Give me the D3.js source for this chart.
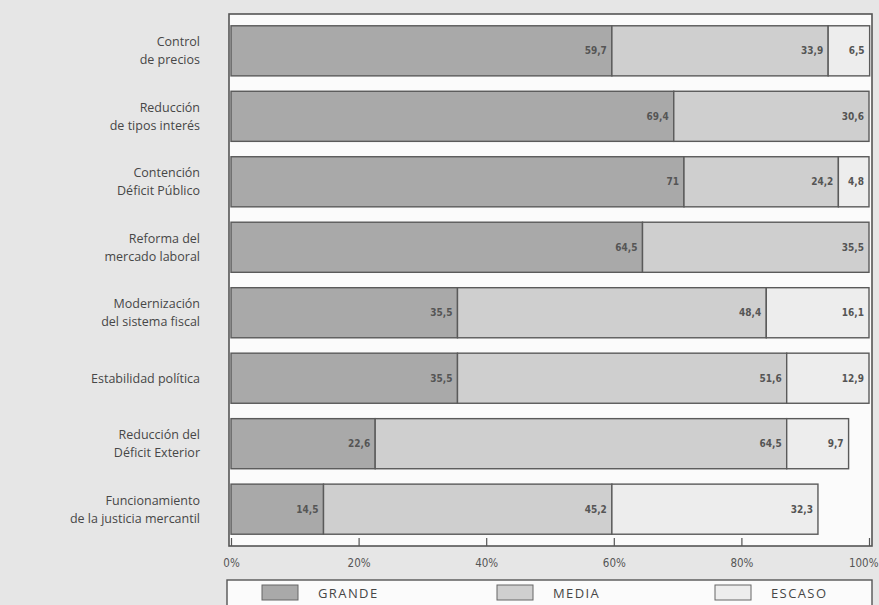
<!DOCTYPE html>
<html>
<head>
<meta charset="utf-8">
<script src="https://cdn.jsdelivr.net/npm/d3@7"></script>
<style>
  html, body { margin: 0; padding: 0; background: #e6e6e6; }
  svg { display: block; }
</style>
</head>
<body>
<svg id="chart" width="879" height="605"></svg>
<script>
// Factores y grado de importancia (porcentaje de respuestas)
const categories = [
  "Control\nde precios",
  "Reducción\nde tipos interés",
  "Contención\nDéficit Público",
  "Reforma del\nmercado laboral",
  "Modernización\ndel sistema fiscal",
  "Estabilidad política",
  "Reducción del\nDéficit Exterior",
  "Funcionamiento\nde la justicia mercantil"
];
const grande = [59.7, 69.4, 71, 64.5, 35.5, 35.5, 22.6, 14.5];
const media  = [33.9, 30.6, 24.2, 35.5, 48.4, 51.6, 64.5, 45.2];
const escaso = [6.5, 0, 4.8, 0, 16.1, 12.9, 9.7, 32.3];
const seriesNames = ["GRANDE", "MEDIA", "ESCASO"];
const tickValues = [0, 20, 40, 60, 80, 100];

const colors = { GRANDE: "#a9a9a9", MEDIA: "#cfcfcf", ESCASO: "#ededed" };
const ink = "#474747";

const svg = d3.select("#chart");

const frame = { left: 229, right: 872, top: 14, bottom: 546 };

const x = d3.scaleLinear().domain([0, 100]).range([231, 869]);
const y = d3.scaleBand()
  .domain(categories)
  .range([frame.top, frame.bottom])
  .paddingInner(0.235)
  .paddingOuter(0.18);

const rows = categories.map((c, i) => ({
  cat: c, GRANDE: grande[i], MEDIA: media[i], ESCASO: escaso[i]
}));
const stacked = d3.stack().keys(seriesNames)(rows);

// plot frame with white interior
svg.append("rect")
  .attr("x", frame.left).attr("y", frame.top)
  .attr("width", frame.right - frame.left)
  .attr("height", frame.bottom - frame.top)
  .attr("fill", "#fbfbfb")
  .attr("stroke", "#555").attr("stroke-width", 1.6);

// stacked segments
const layer = svg.append("g").selectAll("g")
  .data(stacked).join("g")
  .attr("fill", d => colors[d.key]);

layer.selectAll("rect")
  .data(d => d.filter(s => s[1] - s[0] > 0))
  .join("rect")
  .attr("x", s => x(s[0]))
  .attr("y", s => y(s.data.cat))
  .attr("width", s => x(s[1]) - x(s[0]))
  .attr("height", y.bandwidth())
  .attr("stroke", "#5a5a5a")
  .attr("stroke-width", 1.4);

// value labels at the right end of each segment
const fmt = v => String(v).replace(".", ",");
layer.selectAll("text")
  .data(d => d.filter(s => s[1] - s[0] > 0).map(s => ({ s, key: d.key })))
  .join("text")
  .attr("x", d => x(d.s[1]) - 5)
  .attr("y", d => y(d.s.data.cat) + y.bandwidth() / 2)
  .attr("dy", "0.35em")
  .attr("text-anchor", "end")
  .attr("font-family", "'Liberation Sans Narrow', 'DejaVu Sans Condensed', sans-serif")
  .attr("font-size", 10)
  .attr("font-weight", "bold")
  .attr("fill", "#555")
  .text(d => fmt(d.s.data[d.key]));

// category labels
const catG = svg.append("g")
  .attr("font-family", "'Open Sans', 'Noto Sans', sans-serif")
  .attr("font-size", 12.5)
  .attr("fill", ink)
  .attr("text-anchor", "end");

categories.forEach(c => {
  const lines = c.split("\n");
  const cy = y(c) + y.bandwidth() / 2;
  const lh = 18;
  const t = catG.append("text").attr("x", 200);
  lines.forEach((ln, i) => {
    t.append("tspan")
      .attr("x", 200)
      .attr("y", cy + (i - (lines.length - 1) / 2) * lh)
      .attr("dy", "0.35em")
      .text(ln);
  });
});

// x axis: ticks point up inside the frame, labels below
const axis = d3.axisBottom(x)
  .tickValues(tickValues)
  .tickSizeInner(-8)
  .tickSizeOuter(0)
  .tickPadding(13)
  .tickFormat(d => d + "%");

const ax = svg.append("g")
  .attr("transform", `translate(0,${frame.bottom})`)
  .call(axis);
ax.select(".domain").remove();
ax.selectAll(".tick line").attr("stroke", "#555").attr("stroke-width", 1.2);
ax.selectAll(".tick text")
  .attr("font-family", "'Liberation Sans Narrow', 'DejaVu Sans Condensed', sans-serif")
  .attr("font-size", 11.5)
  .attr("fill", "#555");
// keep the last label inside the page edge
ax.selectAll(".tick text")
  .filter(d => d === 100)
  .attr("text-anchor", "end")
  .attr("dx", 9);

// legend
const lg = svg.append("g");
lg.append("rect")
  .attr("x", 227).attr("y", 580)
  .attr("width", 645).attr("height", 40)
  .attr("fill", "#fbfbfb")
  .attr("stroke", "#555").attr("stroke-width", 1.4);

const legendX = d3.scaleOrdinal().domain(seriesNames).range([262, 497, 715]);
const item = lg.selectAll("g.item")
  .data(seriesNames).join("g")
  .attr("class", "item")
  .attr("transform", d => `translate(${legendX(d)},585)`);
item.append("rect")
  .attr("width", 36).attr("height", 15)
  .attr("fill", d => colors[d])
  .attr("stroke", "#666").attr("stroke-width", 1);
item.append("text")
  .attr("x", 56).attr("y", 8).attr("dy", "0.35em")
  .attr("font-family", "'Open Sans', 'Noto Sans', sans-serif")
  .attr("font-size", 13)
  .attr("letter-spacing", 1.4)
  .attr("fill", ink)
  .text(d => d);
</script>
</body>
</html>
